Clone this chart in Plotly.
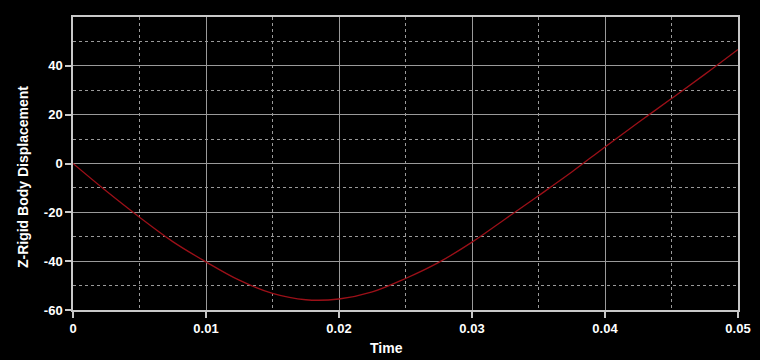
import plotly.graph_objects as go

time = [0, 0.0025, 0.005, 0.0075, 0.01, 0.0125, 0.015, 0.0175, 0.02, 0.0225,
        0.025, 0.0275, 0.03, 0.0325, 0.035, 0.0375, 0.04, 0.0425, 0.045,
        0.0475, 0.05]
displacement = [0, -11.3, -22.0, -32.0, -40.3, -47.8, -53.2, -55.8, -55.5, -52.6,
                -47.1, -40.5, -32.2, -22.7, -13.2, -3.5, 6.8, 16.8, 26.6,
                36.5, 46.7]

x_ticks = [0, 0.01, 0.02, 0.03, 0.04, 0.05]
x_ticklabels = ["0", "0.01", "0.02", "0.03", "0.04", "0.05"]
x_minor = [0.005, 0.015, 0.025, 0.035, 0.045]
y_ticks = [-60, -40, -20, 0, 20, 40]
y_ticklabels = ["-60", "-40", "-20", "0", "20", "40"]
y_minor = [-50, -30, -10, 10, 30, 50]
x_title = "Time"
y_title = "Z-Rigid Body Displacement"

FONT = "Liberation Sans, Arial, sans-serif"
GRID = "#9a9a9a"
LINE = "#c8c8c8"

fig = go.Figure()
fig.add_trace(go.Scatter(
    x=time, y=displacement, mode="lines",
    line=dict(color="#9c1018", width=1.3, shape="spline", smoothing=1.0),
    showlegend=False, hoverinfo="skip",
))

axis_common = dict(
    showline=True, linecolor=LINE, linewidth=1.5, mirror=True,
    showgrid=True, gridcolor=GRID, gridwidth=1,
    ticks="outside", ticklen=6, tickcolor=LINE, tickwidth=1.5,
    tickfont=dict(family=FONT, size=13, color="white", weight="bold"),
    zeroline=False, automargin=False,
)

title_font = dict(family=FONT, size=14, color="white", weight="bold")

fig.update_layout(
    width=760, height=360,
    paper_bgcolor="black", plot_bgcolor="black",
    margin=dict(l=73, r=22, t=17, b=50),
    font=dict(family=FONT, color="white"),
    xaxis=dict(
        range=[0, 0.05], tickvals=x_ticks, ticktext=x_ticklabels,
        minor=dict(tickvals=x_minor, showgrid=True, gridcolor=GRID, griddash="dot", gridwidth=1, ticks=""),
        **axis_common,
    ),
    yaxis=dict(
        range=[-60, 60], tickvals=y_ticks, ticktext=y_ticklabels,
        minor=dict(tickvals=y_minor, showgrid=True, gridcolor=GRID, griddash="dot", gridwidth=1, ticks=""),
        **axis_common,
    ),
    annotations=[
        dict(text=x_title, xref="paper", yref="paper", x=0.4714, y=-0.1297,
             xanchor="center", yanchor="middle", showarrow=False, font=title_font),
        dict(text=y_title, xref="paper", yref="paper", x=-0.0759, y=0.4522,
             xanchor="center", yanchor="middle", textangle=-90, showarrow=False, font=title_font),
    ],
)

fig.write_html(
    "out.html",
    config={"displayModeBar": False},
    post_script="document.body.style.margin='0';document.body.style.padding='0';"
                "document.body.style.background='black';document.body.style.overflow='hidden';",
)
